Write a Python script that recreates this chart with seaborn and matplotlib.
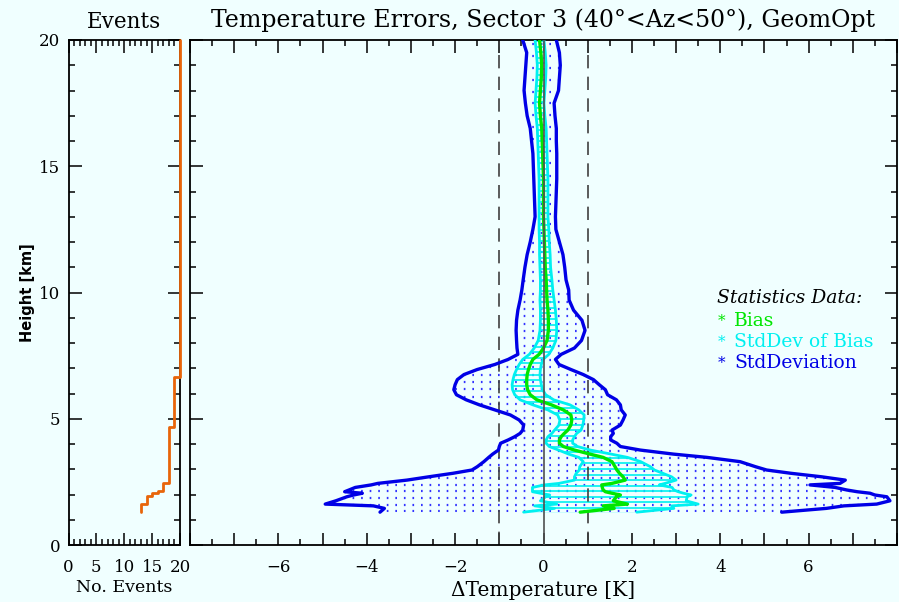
import numpy as np
import matplotlib
matplotlib.use("Agg")
import matplotlib.pyplot as plt
import seaborn as sns
from matplotlib.ticker import MultipleLocator, NullFormatter

# ---------------------------------------------------------------- data
# Height levels [km] of the error profiles
heights = [1.30, 1.45, 1.55, 1.62, 1.75, 1.91, 1.98, 2.05, 2.11, 2.18, 2.28, 2.38,
           2.44, 2.57, 2.70, 2.84, 2.97, 3.10, 3.30, 3.47, 3.60, 3.76, 3.90, 4.03,
           4.16, 4.29, 4.42, 4.55, 4.75, 4.95, 5.15, 5.35, 5.55, 5.75, 5.95, 6.15,
           6.35, 6.55, 6.75, 6.95, 7.15, 7.35, 7.55, 7.80, 8.10, 8.50, 8.90, 9.30,
           9.70, 10.1, 10.5, 11.0, 11.5, 12.0, 12.5, 13.0, 13.5, 14.0, 14.5, 15.0,
           15.5, 16.0, 16.5, 17.0, 17.5, 18.0, 18.5, 19.0, 19.5, 20.0]

# Mean temperature error (bias) [K]
bias = [0.83, 1.60, 1.35, 1.90, 1.58, 1.65, 1.74, 1.55, 1.40, 1.35, 1.33, 1.32,
        1.55, 1.85, 1.80, 1.72, 1.66, 1.62, 1.55, 1.35, 1.05, 0.70, 0.45, 0.36,
        0.36, 0.40, 0.47, 0.55, 0.62, 0.64, 0.62, 0.45, 0.18, -0.15, -0.30, -0.36,
        -0.38, -0.38, -0.37, -0.34, -0.30, -0.24, -0.10, 0.00, 0.08, 0.11, 0.11, 0.10,
        0.08, 0.07, 0.06, 0.04, 0.03, 0.02, 0.01, 0.00, 0.00, 0.00, 0.00, -0.01,
        -0.02, -0.03, -0.04, -0.07, -0.09, -0.07, -0.05, -0.04, -0.06, -0.09]

# Standard deviation of the bias [K]
bias_std = [1.28, 1.35, 1.55, 1.60, 1.65, 1.60, 1.60, 1.62, 1.65, 1.60, 1.58, 1.30,
            1.20, 1.15, 1.10, 0.98, 0.85, 0.80, 0.65, 0.55, 0.48, 0.36, 0.32, 0.30,
            0.30, 0.30, 0.28, 0.30, 0.27, 0.27, 0.30, 0.35, 0.42, 0.38, 0.35, 0.34,
            0.33, 0.31, 0.29, 0.27, 0.25, 0.23, 0.22, 0.21, 0.20, 0.19, 0.18, 0.17,
            0.16, 0.14, 0.13, 0.12, 0.12, 0.11, 0.11, 0.10, 0.10, 0.10, 0.10, 0.10,
            0.10, 0.10, 0.10, 0.10, 0.10, 0.10, 0.10, 0.10, 0.10, 0.10]

# Standard deviation envelope (bias - std, bias + std) [K]
std_low = [-3.70, -3.60, -3.85, -4.94, -4.70, -4.45, -4.30, -4.10, -4.50, -4.40, -4.26, -3.90,
           -3.75, -3.09, -2.60, -2.05, -1.62, -1.50, -1.35, -1.24, -1.15, -1.02, -1.00, -0.97,
           -0.80, -0.65, -0.53, -0.47, -0.45, -0.55, -0.75, -1.10, -1.45, -1.75, -1.97, -2.03,
           -2.00, -1.95, -1.80, -1.50, -1.10, -0.80, -0.58, -0.60, -0.61, -0.62, -0.61, -0.58,
           -0.53, -0.49, -0.46, -0.42, -0.37, -0.30, -0.24, -0.19, -0.20, -0.21, -0.22, -0.23,
           -0.24, -0.27, -0.30, -0.37, -0.41, -0.44, -0.42, -0.40, -0.38, -0.47]
std_high = [5.39, 6.40, 6.80, 7.54, 7.84, 7.77, 7.50, 7.39, 7.10, 6.86, 6.60, 6.03,
            6.71, 6.83, 6.30, 5.60, 5.05, 4.80, 4.45, 3.70, 2.94, 2.19, 1.74, 1.66,
            1.52, 1.52, 1.58, 1.55, 1.74, 1.80, 1.85, 1.76, 1.74, 1.65, 1.45, 1.40,
            1.26, 1.13, 0.90, 0.62, 0.35, 0.27, 0.40, 0.70, 0.86, 0.94, 0.87, 0.68,
            0.58, 0.57, 0.51, 0.48, 0.44, 0.36, 0.28, 0.27, 0.28, 0.29, 0.30, 0.30,
            0.30, 0.29, 0.29, 0.26, 0.24, 0.34, 0.36, 0.38, 0.36, 0.29]

# Number of events contributing at each height band
event_bounds = [1.30, 1.62, 1.95, 2.05, 2.15, 2.45, 4.67, 6.65, 20.0]
event_counts = [13, 14, 15, 16, 17, 18, 19, 20]

title = "Temperature Errors, Sector 3 (40°<Az<50°), GeomOpt"
legend_title = "Statistics Data:"
legend_items = ["Bias", "StdDev of Bias", "StdDeviation"]

# ---------------------------------------------------------------- style
BG = "#f0ffff"
C_BLUE = "#0000e6"
C_DOTS = "#3333ff"
C_CYAN = "#00f0f0"
C_GREEN = "#00e600"
C_ORANGE = "#e8650a"
C_GRID = "#404040"

sns.set_theme(style="white")
plt.rcParams["font.family"] = ["DejaVu Serif"]
plt.rcParams["text.color"] = "black"
plt.rcParams["axes.labelcolor"] = "black"
plt.rcParams["axes.facecolor"] = BG
plt.rcParams["figure.facecolor"] = BG
plt.rcParams["axes.edgecolor"] = "black"
plt.rcParams["axes.linewidth"] = 1.3
plt.rcParams["xtick.color"] = "black"
plt.rcParams["ytick.color"] = "black"

W, H = 899, 602
fig = plt.figure(figsize=(W / 100, H / 100), dpi=100)


def px_axes(x0, y0, x1, y1):
    return fig.add_axes([x0 / W, 1 - y1 / H, (x1 - x0) / W, (y1 - y0) / H])


ax_ev = px_axes(68.5, 40, 180, 545)
ax = px_axes(190, 40, 897, 545)

h = np.asarray(heights)
b = np.asarray(bias)
sb = np.asarray(bias_std)
lo = np.asarray(std_low)
hi = np.asarray(std_high)

# ---------------------------------------------------------------- events panel
eb = np.asarray(event_bounds)
ev_x = np.repeat(event_counts, 2)
ev_y = np.column_stack([eb[:-1], eb[1:]]).ravel()
sns.lineplot(x=ev_x, y=ev_y, sort=False, estimator=None, color=C_ORANGE,
             lw=2.0, ax=ax_ev, zorder=10, clip_on=False)
ax_ev.set_xlim(0, 20)
ax_ev.set_ylim(0, 20)
ax_ev.xaxis.set_major_locator(MultipleLocator(5))
ax_ev.xaxis.set_minor_locator(MultipleLocator(1))
ax_ev.yaxis.set_major_locator(MultipleLocator(5))
ax_ev.yaxis.set_minor_locator(MultipleLocator(1))
ax_ev.set_xlabel("No. Events", fontsize=12.5, labelpad=2)
ax_ev.set_ylabel("Height [km]", fontsize=10.5, fontweight="bold",
                 family="DejaVu Sans", labelpad=3)
ax_ev.set_title("Events", fontsize=15.5, pad=9)

# ---------------------------------------------------------------- main panel
ax.set_xlim(-8, 8)
ax.set_ylim(0, 20)

# dotted fill between the standard-deviation edges
poly_sd = ax.fill_betweenx(h, lo, hi, facecolor="none", edgecolor="none", lw=0)
rows_sd = np.concatenate([np.arange(1.33, 5.8, 0.265),
                          np.arange(5.87, 10.2, 0.29),
                          np.arange(10.45, 15.0, 0.38),
                          np.arange(15.14, 20.0, 0.47)])
dots = ax.hlines(rows_sd, -8, 8, colors=C_DOTS, lw=1.6,
                 linestyles=[(0, (0.75, 3.1))], zorder=1)
dots.set_clip_path(poly_sd.get_paths()[0], ax.transData)

# line fill between the bias-std edges
poly_sb = ax.fill_betweenx(h, b - sb, b + sb, facecolor="none",
                           edgecolor="none", lw=0)
rows_sb = np.arange(1.25, 20.0, 0.22)
fill_sb = ax.hlines(rows_sb, -8, 8, colors=C_CYAN, lw=1.2, zorder=1.5)
fill_sb.set_clip_path(poly_sb.get_paths()[0], ax.transData)

# +/- 1 K reference lines
for xv in (-1, 1):
    ax.axvline(xv, color=C_GRID, lw=1.2, ls=(0, (8, 5)), zorder=2)

for xs, col, lw in [(lo, C_BLUE, 2.4), (hi, C_BLUE, 2.4),
                    (b - sb, C_CYAN, 2.0), (b + sb, C_CYAN, 2.0),
                    (b, C_GREEN, 2.4)]:
    sns.lineplot(x=xs, y=h, sort=False, estimator=None, orient="y",
                 color=col, lw=lw, ax=ax, zorder=3)

ax.axvline(0, color="#505050", lw=1.2, zorder=5)

ax.xaxis.set_major_locator(MultipleLocator(1))
ax.xaxis.set_minor_locator(MultipleLocator(0.5))
ax.set_xticklabels([("\u2212%d" % -v if v < 0 else "%d" % v)
                    if (v % 2 == 0 and abs(v) < 8) else ""
                    for v in ax.get_xticks()])
ax.yaxis.set_major_locator(MultipleLocator(5))
ax.yaxis.set_minor_locator(MultipleLocator(1))
ax.yaxis.set_major_formatter(NullFormatter())
ax.set_xlabel("\u0394Temperature [K]", fontsize=14.5, labelpad=4)
ax.set_title(title, fontsize=17, pad=9)

for a in (ax, ax_ev):
    a.tick_params(which="both", direction="in", top=True, right=True,
                  bottom=True, left=True, labelsize=12, width=1.1)
    a.tick_params(which="major", length=9, pad=10)
    a.tick_params(which="minor", length=4.5)
    for s in a.spines.values():
        s.set_visible(True)
        s.set_color("black")
        s.set_linewidth(1.3)
ax_ev.tick_params(axis="y", which="major", pad=6)

# legend as text block
lx, ly = 717 / W, 1 - 298 / H
fig.text(lx, ly, legend_title, fontsize=13.5, style="italic", va="center")
for i, (lab, col) in enumerate(zip(legend_items, [C_GREEN, C_CYAN, C_BLUE])):
    yy = ly - (23 + 21 * i) / H
    fig.text(lx + 1 / W, yy, "*", fontsize=11, color=col, va="center")
    fig.text(lx + 17 / W, yy, lab, fontsize=13.5, color=col, va="center")

fig.savefig("out.png", dpi=100, facecolor=BG)
